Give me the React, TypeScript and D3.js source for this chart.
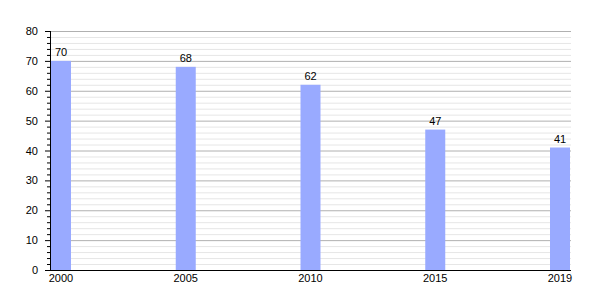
import React from "react";
import * as d3 from "d3";

const categories = ["2000", "2005", "2010", "2015", "2019"];
const values = [70, 68, 62, 47, 41];
const majorTicks = [0, 10, 20, 30, 40, 50, 60, 70, 80];

export default function App() {
  const W = 600, H = 300;
  const left = 50, right = 571, top = 31, bottom = 270;
  const barW = 20;
  const x = d3.scalePoint<string>().domain(categories).range([left + 1 + barW / 2, right - 1 - barW / 2]);
  const y = d3.scaleLinear().domain([0, 80]).range([bottom, top]);
  const minor = d3.range(0, 81, 2).filter((v) => v % 10 !== 0);
  const font = "'Liberation Sans', Arial, sans-serif";
  return (
    <svg width={W} height={H} style={{ position: "absolute", left: 0, top: 0, background: "#fff" }} fontFamily={font}>
      {minor.map((v) => (
        <line key={"m" + v} x1={left} x2={right} y1={y(v) + 0.5} y2={y(v) + 0.5} stroke="#e6e6e6" />
      ))}
      {majorTicks.map((v) => (
        <line key={"M" + v} x1={left} x2={right} y1={y(v) + 0.5} y2={y(v) + 0.5} stroke="#b0b0b0" />
      ))}
      {categories.map((c, i) => (
        <g key={c}>
          <rect x={(x(c) as number) - barW / 2} y={y(values[i])} width={barW} height={bottom - y(values[i])} fill="#99aaff" />
          <text x={x(c) as number} y={y(values[i]) - 5} textAnchor="middle" fontSize={11} fill="#000">{values[i]}</text>
          <text x={x(c) as number} y={bottom + 12} textAnchor="middle" fontSize={11} fill="#000">{c}</text>
        </g>
      ))}
      {minor.map((v) => (
        <line key={"mt" + v} x1={left - 3} x2={left} y1={y(v) + 0.5} y2={y(v) + 0.5} stroke="#000" />
      ))}
      {majorTicks.map((v) => (
        <g key={"t" + v}>
          <line x1={left - 5} x2={left} y1={y(v) + 0.5} y2={y(v) + 0.5} stroke="#000" />
          <text x={left - 12} y={y(v) + 4} textAnchor="end" fontSize={11} fill="#000">{v}</text>
        </g>
      ))}
      <line x1={left + 0.5} x2={left + 0.5} y1={top} y2={bottom + 1} stroke="#000" />
      <line x1={left} x2={right} y1={bottom + 0.5} y2={bottom + 0.5} stroke="#000" />
    </svg>
  );
}
